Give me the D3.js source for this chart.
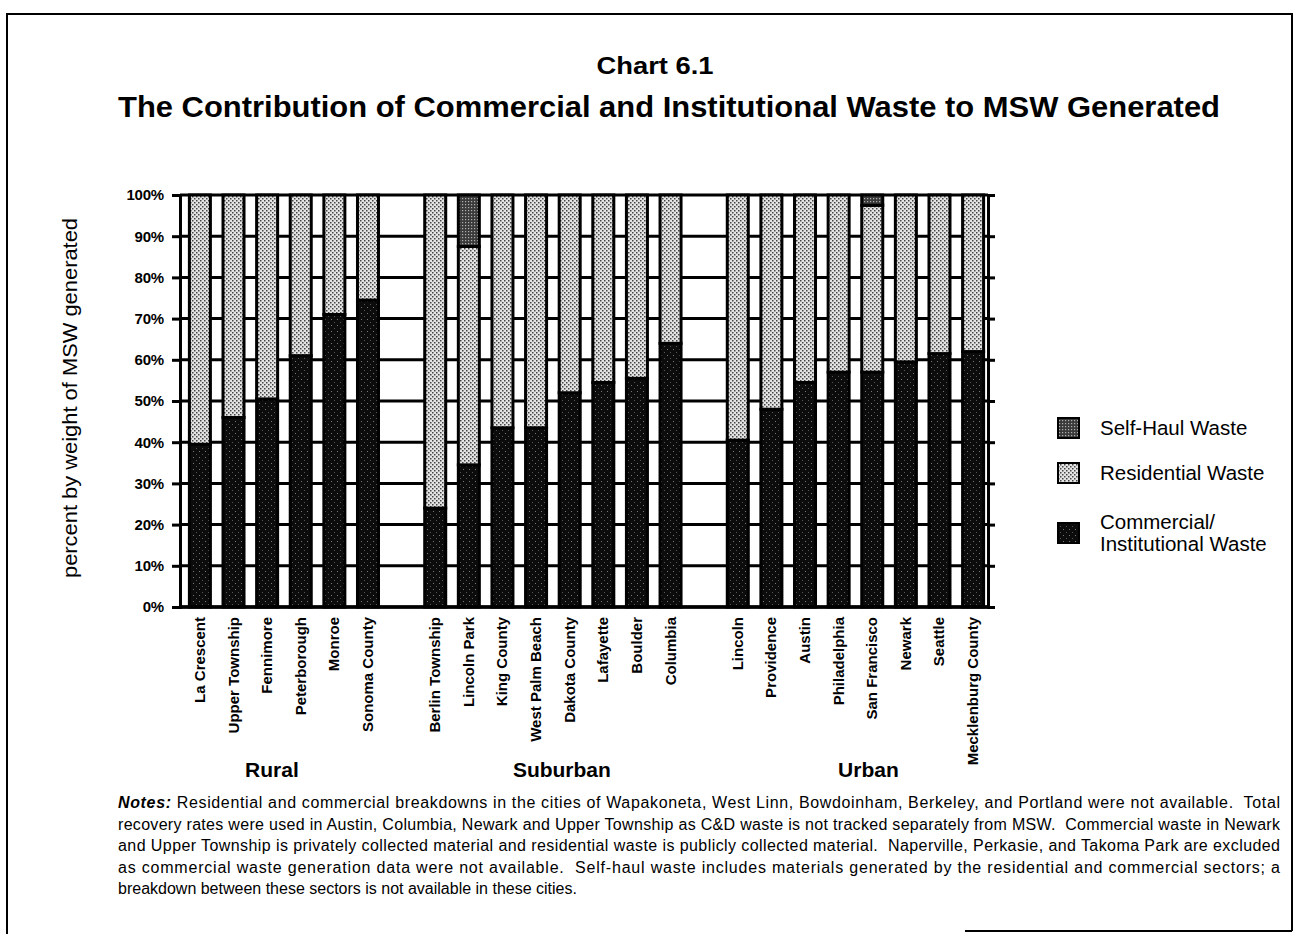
<!DOCTYPE html>
<html>
<head>
<meta charset="utf-8">
<script src="https://cdn.jsdelivr.net/npm/d3@7"></script>
<style>
  body { margin: 0; background: #fff; }
  text { font-family: "Liberation Sans", Arial, Helvetica, sans-serif; fill: #000; }
</style>
</head>
<body>
<script>
/* Categories, grouped by area type. */
const rural = ["La Crescent", "Upper Township", "Fennimore", "Peterborough", "Monroe", "Sonoma County"]
const suburban = ["Berlin Township", "Lincoln Park", "King County", "West Palm Beach", "Dakota County", "Lafayette", "Boulder", "Columbia"]
const urban = ["Lincoln", "Providence", "Austin", "Philadelphia", "San Francisco", "Newark", "Seattle", "Mecklenburg County"]
const groupNames = ["Rural", "Suburban", "Urban"]

/* Series values, percent by weight (same order as the cities above). */
const commercial = [39.5, 46, 50.5, 61, 71, 74.5,  24, 34.5, 43.5, 43.5, 52, 54.5, 55.5, 64,  40.5, 48, 54.5, 57, 57, 59.5, 61.5, 62]
const residential = [60.5, 54, 49.5, 39, 29, 25.5,  76, 53, 56.5, 56.5, 48, 45.5, 44.5, 36,  59.5, 52, 45.5, 43, 40.5, 40.5, 38.5, 38]
const selfHaul = [0, 0, 0, 0, 0, 0,  0, 12.5, 0, 0, 0, 0, 0, 0,  0, 0, 0, 0, 2.5, 0, 0, 0]

/* Tick values. */
const yTicks = [0, 10, 20, 30, 40, 50, 60, 70, 80, 90, 100]

/* Notes lines. */
const noteLines = [
  " Residential and commercial breakdowns in the cities of Wapakoneta, West Linn, Bowdoinham, Berkeley, and Portland were not available.  Total",
  "recovery rates were used in Austin, Columbia, Newark and Upper Township as C&D waste is not tracked separately from MSW.  Commercial waste in Newark",
  "and Upper Township is privately collected material and residential waste is publicly collected material.  Naperville, Perkasie, and Takoma Park are excluded",
  "as commercial waste generation data were not available.  Self-haul waste includes materials generated by the residential and commercial sectors; a",
  "breakdown between these sectors is not available in these cities."
]

/* Define svg-size. */
const width = 1296
const height = 934

const svg = d3.select("body")
  .append("svg")
  .attr("width", width)
  .attr("height", height)

/* Patterns for the stippled fills. */
const defs = svg.append("defs")

const resPat = defs.append("pattern")
  .attr("id", "resPat").attr("width", 4).attr("height", 4)
  .attr("patternUnits", "userSpaceOnUse")
resPat.append("rect").attr("width", 4).attr("height", 4).attr("fill", "#e4e4e4")
resPat.append("rect").attr("x", 0).attr("y", 0).attr("width", 1.5).attr("height", 1.5).attr("fill", "#444")
resPat.append("rect").attr("x", 2).attr("y", 2).attr("width", 1.5).attr("height", 1.5).attr("fill", "#444")

const comPat = defs.append("pattern")
  .attr("id", "comPat").attr("width", 6).attr("height", 6)
  .attr("patternUnits", "userSpaceOnUse")
comPat.append("rect").attr("width", 6).attr("height", 6).attr("fill", "#0c0c0c")
comPat.append("rect").attr("x", 1).attr("y", 1).attr("width", 1).attr("height", 1).attr("fill", "#777")
comPat.append("rect").attr("x", 4).attr("y", 4).attr("width", 1).attr("height", 1).attr("fill", "#555")

const selfPat = defs.append("pattern")
  .attr("id", "selfPat").attr("width", 3).attr("height", 3)
  .attr("patternUnits", "userSpaceOnUse")
selfPat.append("rect").attr("width", 3).attr("height", 3).attr("fill", "#3a3a3a")
selfPat.append("rect").attr("x", 0).attr("y", 0).attr("width", 1.2).attr("height", 1.2).attr("fill", "#b0b0b0")

const fills = { commercial: "url(#comPat)", residential: "url(#resPat)", selfHaul: "url(#selfPat)" }

/* Page frame. */
svg.append("path")
  .attr("d", "M7,934V14H1292V931M965,931H1292")
  .attr("fill", "none")
  .attr("stroke", "#000")
  .attr("stroke-width", 2)

/* Titles. */
svg.append("text")
  .attr("x", 655).attr("y", 74)
  .attr("text-anchor", "middle")
  .attr("font-size", 24).attr("font-weight", "bold")
  .attr("textLength", 117).attr("lengthAdjust", "spacingAndGlyphs")
  .text("Chart 6.1")

svg.append("text")
  .attr("x", 669).attr("y", 117)
  .attr("text-anchor", "middle")
  .attr("font-size", 29).attr("font-weight", "bold")
  .attr("textLength", 1102).attr("lengthAdjust", "spacingAndGlyphs")
  .text("The Contribution of Commercial and Institutional Waste to MSW Generated")

/* Build rows and the x domain (with an empty slot between groups). */
const groups = [rural, suburban, urban]
const cities = groups.flat()
const rows = cities.map((c, i) => ({
  city: c,
  commercial: commercial[i],
  residential: residential[i],
  selfHaul: selfHaul[i]
}))

const domain = []
groups.forEach((g, i) => {
  if (i > 0) domain.push("gap" + i)
  g.forEach(c => domain.push(c))
})

/* Scales. */
const plotLeft = 180
const plotRight = 988
const x = d3.scaleBand()
  .domain(domain)
  .range([183, 990])
  .paddingInner(0.375)
  .paddingOuter(0.19)

const y = d3.scaleLinear()
  .domain([0, 100])
  .range([607, 195])

/* Gridlines. */
svg.append("g")
  .selectAll("line")
  .data(yTicks)
  .enter()
  .append("line")
  .attr("x1", plotLeft).attr("x2", plotRight)
  .attr("y1", d => y(d)).attr("y2", d => y(d))
  .attr("stroke", "#000")
  .attr("stroke-width", 3)

/* Left axis. */
const yAxis = svg.append("g")
  .attr("transform", `translate(${plotLeft},0)`)
  .call(d3.axisLeft(y).tickValues(yTicks).tickFormat(d => d + "%").tickSize(8).tickPadding(8))
yAxis.select(".domain").attr("stroke-width", 3)
yAxis.selectAll(".tick line").attr("stroke-width", 3)
yAxis.selectAll(".tick text")
  .attr("font-size", 15).attr("font-weight", "bold")
  .attr("font-family", "'Liberation Sans', Arial, sans-serif")
  .attr("letter-spacing", "-0.2")

/* Right frame with outward ticks. */
const rAxis = svg.append("g")
  .attr("transform", `translate(${plotRight},0)`)
  .call(d3.axisRight(y).tickValues(yTicks).tickFormat("").tickSize(7))
rAxis.select(".domain").attr("stroke-width", 3)
rAxis.selectAll(".tick line").attr("stroke-width", 3)

/* Stacked bars. */
const stack = d3.stack().keys(["commercial", "residential", "selfHaul"])
const series = stack(rows)

svg.append("g")
  .selectAll("g")
  .data(series)
  .enter()
  .append("g")
  .attr("fill", d => fills[d.key])
  .selectAll("rect")
  .data(d => d.filter(p => p[1] - p[0] > 0))
  .enter()
  .append("rect")
  .attr("x", d => x(d.data.city))
  .attr("width", x.bandwidth())
  .attr("y", d => y(d[1]))
  .attr("height", d => y(d[0]) - y(d[1]))
  .attr("stroke", "#000")
  .attr("stroke-width", 3)

/* Bottom axis line. */
svg.append("line")
  .attr("x1", plotLeft - 1).attr("x2", plotRight + 1)
  .attr("y1", y(0)).attr("y2", y(0))
  .attr("stroke", "#000")
  .attr("stroke-width", 3.5)

/* City labels. */
svg.append("g")
  .selectAll("text")
  .data(cities)
  .enter()
  .append("text")
  .attr("transform", d => `translate(${x(d) + x.bandwidth() / 2 + 5},617) rotate(-90)`)
  .attr("text-anchor", "end")
  .attr("font-size", 15)
  .attr("font-weight", "bold")
  .text(d => d)

/* Group labels (nudged as in the original layout). */
const groupNudge = [-12, 9, 13]
svg.append("g")
  .selectAll("text")
  .data(groupNames)
  .enter()
  .append("text")
  .attr("x", (d, i) => {
    const g = groups[i]
    return (x(g[0]) + x(g[g.length - 1]) + x.bandwidth()) / 2 + groupNudge[i]
  })
  .attr("y", 777)
  .attr("text-anchor", "middle")
  .attr("font-size", 21)
  .attr("font-weight", "bold")
  .text(d => d)

/* Y axis title. */
svg.append("text")
  .attr("transform", "translate(77,398) rotate(-90)")
  .attr("text-anchor", "middle")
  .attr("font-size", 20)
  .attr("textLength", 360).attr("lengthAdjust", "spacingAndGlyphs")
  .text("percent by weight of MSW generated")

/* Legend. */
const legendItems = [
  { key: "selfHaul", lines: ["Self-Haul Waste"], y: 428 },
  { key: "residential", lines: ["Residential Waste"], y: 473 },
  { key: "commercial", lines: ["Commercial/", "Institutional Waste"], y: 533 }
]

const legend = svg.append("g")

legend.selectAll("rect")
  .data(legendItems)
  .enter()
  .append("rect")
  .attr("x", 1058)
  .attr("y", d => d.y - 10)
  .attr("width", 21)
  .attr("height", 20)
  .attr("fill", d => fills[d.key])
  .attr("stroke", "#000")
  .attr("stroke-width", 2)

legend.selectAll("text")
  .data(legendItems)
  .enter()
  .append("text")
  .attr("x", 1100)
  .attr("font-size", 20.5)
  .each(function(d) {
    const t = d3.select(this)
    const n = d.lines.length
    d.lines.forEach((line, i) => {
      t.append("tspan")
        .attr("x", 1100)
        .attr("y", d.y + 7 + (i - (n - 1) / 2) * 22)
        .text(line)
    })
  })

/* Notes. */
const notes = svg.append("g")
  .attr("font-size", 16)

noteLines.forEach((line, i) => {
  const t = notes.append("text")
    .attr("x", 118)
    .attr("y", 808 + i * 21.5)
    .attr("xml:space", "preserve")
    .style("white-space", "pre")
  if (i === 0) {
    t.append("tspan")
      .attr("font-weight", "bold")
      .attr("font-style", "italic")
      .text("Notes:")
  }
  t.append("tspan").text(line)
  if (i < noteLines.length - 1) {
    t.attr("textLength", 1162).attr("lengthAdjust", "spacing")
  }
})
</script>
</body>
</html>
